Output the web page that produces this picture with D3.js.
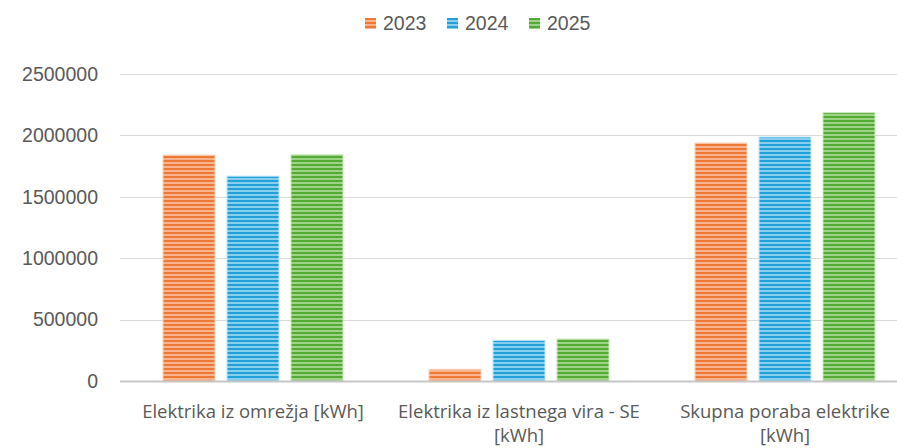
<!DOCTYPE html>
<html>
<head>
<meta charset="utf-8">
<script src="https://cdn.jsdelivr.net/npm/d3@7"></script>
<style>
  html, body { margin: 0; padding: 0; background: #ffffff; }
  svg { display: block; }
</style>
</head>
<body>
<div id="chart"></div>
<script>
const categories = [
  "Elektrika iz omrežja [kWh]",
  "Elektrika iz lastnega vira - SE [kWh]",
  "Skupna poraba elektrike [kWh]"
];
const categoryLines = [
  ["Elektrika iz omrežja [kWh]"],
  ["Elektrika iz lastnega vira - SE", "[kWh]"],
  ["Skupna poraba elektrike", "[kWh]"]
];
const years = ["2023", "2024", "2025"];
const values2023 = [1840000, 95000, 1938000];
const values2024 = [1668000, 331000, 1987000];
const values2025 = [1843000, 342000, 2185000];
const yTicks = [0, 500000, 1000000, 1500000, 2000000, 2500000];

const seriesValues = [values2023, values2024, values2025];
const colors = {
  "2023": { dark: "#EE7936", light: "#F8B48C", edge: "#FBD3BC" },
  "2024": { dark: "#22A1D9", light: "#88CFEF", edge: "#BFE5F6" },
  "2025": { dark: "#53AA34", light: "#9DD385", edge: "#CBE8BE" }
};

const W = 897, H = 448;
const svg = d3.select("#chart").append("svg")
  .attr("width", W).attr("height", H)
  .style("font-family", "'Liberation Sans', Arial, sans-serif");

const defs = svg.append("defs");
years.forEach(y => {
  const p = defs.append("pattern")
    .attr("id", "pat" + y)
    .attr("patternUnits", "userSpaceOnUse")
    .attr("width", 8).attr("height", 4);
  p.append("rect").attr("width", 8).attr("height", 4).attr("fill", colors[y].light);
  p.append("rect").attr("y", 0).attr("width", 8).attr("height", 2).attr("fill", colors[y].dark);
});

const x0 = d3.scaleBand().domain(categories).range([120, 918]).paddingInner(0).paddingOuter(0);
const x1 = d3.scaleBand().domain(years).range([42.5, 223.5]).paddingInner(0.172).paddingOuter(0);
const y = d3.scaleLinear().domain([0, 2500000]).range([381, 74]);

// gridlines
svg.append("g").selectAll("line")
  .data(yTicks.filter(t => t !== 0))
  .join("line")
  .attr("x1", 120).attr("x2", W)
  .attr("y1", d => Math.round(y(d)) + 0.5).attr("y2", d => Math.round(y(d)) + 0.5)
  .attr("stroke", "#d9d9d9").attr("stroke-width", 1);

// y tick labels
svg.append("g").selectAll("text")
  .data(yTicks)
  .join("text")
  .attr("x", 98)
  .attr("y", d => y(d))
  .attr("dy", "0.35em")
  .attr("text-anchor", "end")
  .attr("fill", "#595959")
  .style("font-size", "19.5px")
  .text(d => d3.format("d")(d));

// bars
const data = categories.map((c, i) => ({
  cat: c,
  vals: years.map((yr, j) => ({ year: yr, value: seriesValues[j][i] }))
}));

const groups = svg.append("g").selectAll("g")
  .data(data)
  .join("g")
  .attr("transform", d => `translate(${x0(d.cat)},0)`);

groups.selectAll("rect")
  .data(d => d.vals)
  .join("rect")
  .attr("x", d => x1(d.year) + 0.5)
  .attr("y", d => y(d.value))
  .attr("width", x1.bandwidth() - 1)
  .attr("height", d => y(0) - y(d.value))
  .attr("fill", d => `url(#pat${d.year})`)
  .attr("stroke", d => colors[d.year].edge)
  .attr("stroke-width", 1);

// x axis line
svg.append("line")
  .attr("x1", 120).attr("x2", W)
  .attr("y1", 381.5).attr("y2", 381.5)
  .attr("stroke", "#c6c6c6").attr("stroke-width", 2);

// category labels
const labels = svg.append("g").selectAll("text")
  .data(categories)
  .join("text")
  .attr("text-anchor", "middle")
  .attr("fill", "#595959")
  .style("font-family", "'Open Sans', 'Liberation Sans', sans-serif")
  .style("font-size", "18.5px")
  .attr("transform", d => `translate(${x0(d) + x0.bandwidth() / 2},0)`);

labels.selectAll("tspan")
  .data((d, i) => categoryLines[i])
  .join("tspan")
  .attr("x", 0)
  .attr("y", (d, i) => 418 + i * 24)
  .text(d => d);

// legend
const legendX = [365, 447, 529];
const legend = svg.append("g").selectAll("g")
  .data(years)
  .join("g")
  .attr("transform", (d, i) => `translate(${legendX[i]},18)`);
legend.append("rect")
  .attr("width", 11).attr("height", 11)
  .attr("fill", d => `url(#pat${d})`);
legend.append("text")
  .attr("x", 18).attr("y", 5.5).attr("dy", "0.35em")
  .attr("fill", "#595959")
  .style("font-size", "19.5px")
  .text(d => d);
</script>
</body>
</html>
